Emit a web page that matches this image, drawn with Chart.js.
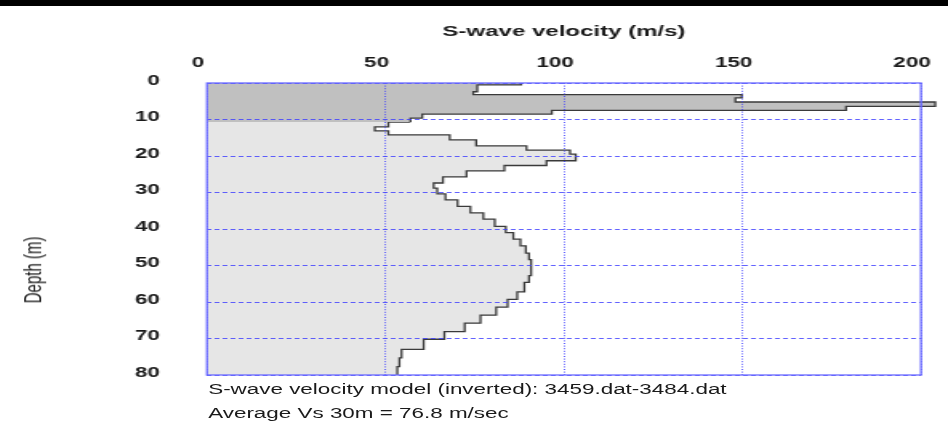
<!DOCTYPE html>
<html><head><meta charset="utf-8">
<script src="https://cdn.jsdelivr.net/npm/chart.js@4.4.1/dist/chart.umd.min.js"></script>
<style>
html,body{margin:0;padding:0;background:#fff;overflow:hidden;width:948px;height:438px;}
#wrap{position:absolute;left:0;top:0;width:592px;height:438px;transform:scaleX(1.60135);transform-origin:0 0;}
#cbox{position:absolute;left:0;top:0;width:592px;height:438px;}
.note{position:absolute;left:130px;font:14px "Liberation Sans",Arial,sans-serif;color:#1a1a1a;white-space:nowrap;line-height:16px;}
#ytitle{position:absolute;font:15px "Liberation Sans",Arial,sans-serif;color:#1a1a1a;white-space:nowrap;line-height:18px;transform:translate(-50%,-50%) rotate(-90deg);left:20.6px;top:270px;}
#bar{position:absolute;left:0;top:0;width:948px;height:6px;background:#000;}
</style></head>
<body>
<div id="wrap">
  <div id="cbox"><canvas id="c"></canvas></div>
  <div id="ytitle">Depth (m)</div>
  <div class="note" style="top:381px">S-wave velocity model (inverted): 3459.dat-3484.dat</div>
  <div class="note" style="top:405px">Average Vs 30m = 76.8 m/sec</div>
</div>
<div id="bar"></div>
<script>
// Layer top depths (m)
const layerTop = [0, 0.5, 2.4, 3.2, 4.1, 5.2, 6.4, 7.5, 8.5, 9.6,
  10.7, 12.0, 13.1, 14.2, 15.6, 17.2, 18.4, 19.5, 21.3, 22.6,
  24.1, 25.7, 27.4, 28.8, 30.4, 32.0, 33.8, 35.6, 37.3, 39.3,
  41.0, 42.8, 44.6, 46.6, 48.4, 52.8, 54.6, 57.2, 59.3, 61.4,
  63.6, 65.8, 68.1, 70.2, 73.0, 75.3, 77.7];
// S-wave velocity of each layer (m/s)
const vs = [88, 75.7, 74.6, 149.8, 148, 204, 179, 96.6, 60.3, 57,
  50.8, 47, 50.8, 68, 75.4, 89.5, 101.7, 103.3, 95.1, 83.3,
  72.7, 66.1, 63.5, 64.5, 66.8, 70.2, 73.8, 77.4, 80.6, 83.7,
  85.8, 87.8, 89.3, 90.2, 90.8, 90.2, 88.9, 86.9, 84.2, 81,
  76.6, 72.2, 66.5, 60.7, 54.5, 53.9, 53.3];
const maxDepth = 80;
const nearSurfaceLayers = 10;
const xTicks = [0, 50, 100, 150, 200];
const yTicks = [0, 10, 20, 30, 40, 50, 60, 70, 80];

function stepPoints(from, to) {
  const pts = [];
  for (let i = from; i < to; i++) {
    const bottom = i + 1 < layerTop.length ? layerTop[i + 1] : maxDepth;
    pts.push({x: vs[i], y: layerTop[i]}, {x: vs[i], y: bottom});
  }
  return pts;
}
const upper = stepPoints(0, nearSurfaceLayers);
const lower = [{x: vs[nearSurfaceLayers - 1], y: layerTop[nearSurfaceLayers]}].concat(stepPoints(nearSurfaceLayers, vs.length));

const FONT = '"Liberation Sans", Arial, sans-serif';
const GRIDBLUE = 'rgba(60,60,255,0.8)';

const extendFill = {
  id: 'extendFill',
  beforeDatasetsDraw(chart) { chart.$savedRight = chart.chartArea.right; chart.chartArea.right += 40; },
  afterDatasetsDraw(chart) { chart.chartArea.right = chart.$savedRight; }
};
const frame = {
  id: 'frame',
  afterDraw(chart) {
    const {ctx, chartArea: a} = chart;
    ctx.save();
    ctx.strokeStyle = '#6a6aff';
    ctx.lineWidth = 1.3;
    ctx.strokeRect(a.left, a.top, a.right - a.left, a.bottom - a.top);
    ctx.restore();
  }
};

new Chart(document.getElementById('c'), {
  type: 'line',
  data: {
    datasets: [
      {data: upper, fill: 'origin', backgroundColor: '#c0c0c0', borderColor: '#3a3a3a', borderWidth: 1.3, pointRadius: 0, tension: 0, clip: false},
      {data: lower, fill: 'origin', backgroundColor: '#e6e6e6', borderColor: '#3a3a3a', borderWidth: 1.3, pointRadius: 0, tension: 0, clip: false}
    ]
  },
  options: {
    indexAxis: 'y',
    responsive: true,
    maintainAspectRatio: false,
    animation: false,
    events: [],
    layout: {padding: {left: 0, top: 0, right: 16.87, bottom: 63}},
    plugins: {legend: {display: false}, tooltip: {enabled: false}},
    scales: {
      x: {
        type: 'linear', position: 'top', min: 0, max: 200,
        afterBuildTicks: s => { s.ticks = xTicks.map(v => ({value: v})); },
        afterFit: s => { s.height = 83; s.paddingLeft = 0; s.paddingRight = 0; },
        ticks: {font: {family: FONT, size: 14, weight: 'bold'}, color: '#1a1a1a', padding: 11, labelOffset: -5.6, maxRotation: 0},
        grid: {color: GRIDBLUE, lineWidth: 1, drawTicks: false, z: 1},
        border: {display: false, dash: [1, 1.6]},
        title: {display: true, text: 'S-wave velocity (m/s)', font: {family: FONT, size: 15, weight: 'bold'}, color: '#1a1a1a', padding: {top: 23, bottom: 0}}
      },
      y: {
        type: 'linear', position: 'left', reverse: true, min: 0, max: maxDepth,
        afterBuildTicks: s => { s.ticks = yTicks.map(v => ({value: v})); },
        afterFit: s => { s.width = 129.26; s.paddingTop = 0; s.paddingBottom = 0; },
        ticks: {font: {family: FONT, size: 14, weight: 'bold'}, color: '#1a1a1a', padding: 29.4, labelOffset: -2},
        grid: {color: GRIDBLUE, lineWidth: 1, drawTicks: false, z: 1},
        border: {display: false, dash: [3, 2]}
      }
    }
  },
  plugins: [extendFill, frame]
});
</script>
</body></html>
